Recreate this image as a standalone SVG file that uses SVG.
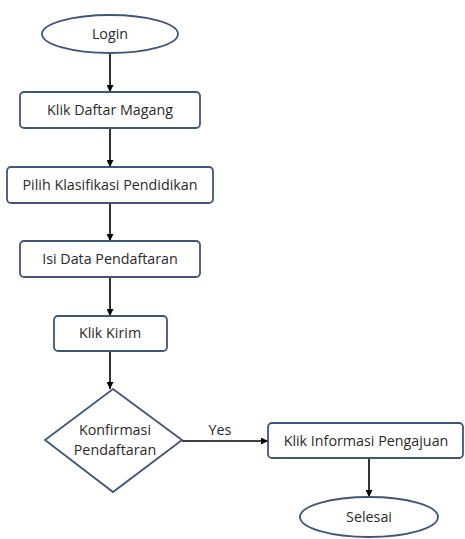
<svg xmlns="http://www.w3.org/2000/svg" width="465" height="539" viewBox="0 0 465 539">
<defs>
<style>
.n{fill:#fff;stroke:#3f5678;stroke-width:1.8}
.t{font-family:"Open Sans","Liberation Sans",sans-serif;font-size:14.3px;fill:#2a2a2a;text-anchor:middle}
.c{stroke:#000;stroke-width:1.6;fill:none}
</style>
<marker id="a" viewBox="0 0 10 10" refX="10" refY="5" markerWidth="7" markerHeight="7" orient="auto" markerUnits="userSpaceOnUse">
<path d="M0,0L10,5L0,10z" fill="#000"/>
</marker>
</defs>
<rect width="465" height="539" fill="#fff"/>
<g id="connectors">
<line class="c" x1="110" y1="53" x2="110" y2="92" marker-end="url(#a)"/>
<line class="c" x1="110" y1="128" x2="110" y2="167" marker-end="url(#a)"/>
<line class="c" x1="110" y1="203" x2="110" y2="241" marker-end="url(#a)"/>
<line class="c" x1="110" y1="277" x2="110" y2="316" marker-end="url(#a)"/>
<line class="c" x1="110" y1="351" x2="110" y2="389" marker-end="url(#a)"/>
<line class="c" x1="182" y1="441" x2="268" y2="441" marker-end="url(#a)"/>
<line class="c" x1="369" y1="458" x2="369" y2="497" marker-end="url(#a)"/>
<text class="t" x="220" y="435">Yes</text>
</g>
<g id="login">
<ellipse class="n" cx="110" cy="34" rx="68" ry="19"/>
<text class="t" x="110" y="39">Login</text>
</g>
<g id="daftar">
<rect class="n" x="20" y="92" width="180" height="36" rx="4"/>
<text class="t" x="110" y="115">Klik Daftar Magang</text>
</g>
<g id="pilih">
<rect class="n" x="7" y="167" width="206" height="36" rx="4"/>
<text class="t" x="110" y="190">Pilih Klasifikasi Pendidikan</text>
</g>
<g id="isi">
<rect class="n" x="20" y="241" width="180" height="36" rx="4"/>
<text class="t" x="110" y="264">Isi Data Pendaftaran</text>
</g>
<g id="kirim">
<rect class="n" x="54" y="316" width="113" height="35" rx="4"/>
<text class="t" x="110" y="338">Klik Kirim</text>
</g>
<g id="konfirmasi">
<polygon class="n" points="113,389 182,440 113,492 45,440"/>
<text class="t" x="115" y="435">Konfirmasi</text>
<text class="t" x="115" y="455">Pendaftaran</text>
</g>
<g id="informasi">
<rect class="n" x="268" y="423" width="195" height="35" rx="4"/>
<text class="t" x="366" y="446">Klik Informasi Pengajuan</text>
</g>
<g id="selesai">
<ellipse class="n" cx="369" cy="517" rx="69" ry="20"/>
<text class="t" x="369" y="522">Selesai</text>
</g>
</svg>
